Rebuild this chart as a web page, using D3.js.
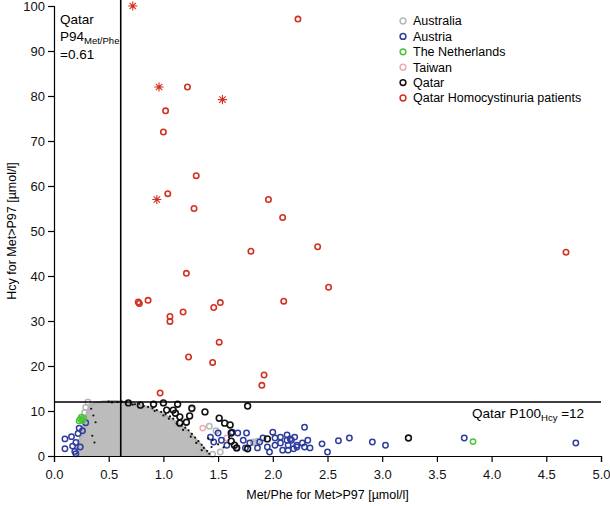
<!DOCTYPE html>
<html>
<head>
<meta charset="utf-8">
<script src="https://cdn.jsdelivr.net/npm/d3@7"></script>
<style>
  body { margin: 0; background: #fff; }
  text { font-family: "Liberation Sans", Arial, Helvetica, sans-serif; }
</style>
</head>
<body>
<svg id="chart" width="610" height="506"></svg>
<script>
// Met/Phe vs Hcy for Met>P97

// Qatar homocystinuria patients, open circles [Met/Phe, Hcy]
const patientCircles = [
  [2.23, 97.1], [1.22, 82], [1.02, 76.7], [1.0, 72], [1.30, 62.3], [1.04, 58.3],
  [1.96, 57], [1.28, 55], [2.09, 53], [1.80, 45.5], [2.41, 46.5], [4.68, 45.3],
  [1.21, 40.6], [2.51, 37.5], [1.18, 32], [1.46, 33], [1.52, 34.1], [2.10, 34.4],
  [0.77, 34.2], [0.78, 33.9], [0.86, 34.6], [1.06, 31.0], [1.06, 29.9],
  [1.51, 25.3], [1.23, 22], [1.45, 20.8], [1.92, 18], [1.90, 15.7], [0.97, 14]
]
// Qatar homocystinuria patients drawn as asterisks
const patientStars = [[0.72, 100], [0.96, 82], [1.54, 79.2], [0.94, 57]]

// Qatar newborns (black open circles)
const qatar = [
  [0.68, 11.8], [0.79, 11.3], [0.91, 11.5], [1.0, 11.8], [1.03, 10.2], [1.09, 10.2],
  [1.11, 9.5], [1.13, 11.5], [1.15, 8.7], [1.15, 7.3], [1.21, 7.5], [1.24, 8.9],
  [1.26, 10.6], [1.38, 9.8], [1.51, 8.4], [1.56, 7.3], [1.61, 6.9], [1.62, 5.1],
  [1.62, 3.3], [1.65, 2.4], [1.67, 1.8], [1.77, 1.6], [1.77, 11.1], [1.95, 3.8],
  [3.24, 4.0]
]
// Qatar small dots lying along the edge of the Australian cloud
const qatarDots = [
  [0.50, 12.1], [0.53, 11.9], [0.58, 12.0], [0.62, 12.1], [0.66, 11.9], [0.70, 11.8],
  [0.74, 11.5], [0.78, 11.6], [0.82, 11.1], [0.86, 10.9], [0.90, 10.6], [0.94, 10.2],
  [0.98, 9.8], [1.02, 9.3], [1.06, 8.8], [1.09, 8.3], [1.13, 7.7], [1.17, 7.0],
  [1.20, 6.3], [1.23, 5.7], [1.26, 4.9], [1.29, 4.1], [1.32, 3.3], [1.35, 2.5],
  [1.37, 1.8], [1.40, 1.1], [1.42, 0.5], [0.92, 10.0], [1.00, 9.0], [1.05, 8.3],
  [1.12, 7.2], [1.18, 5.8], [1.25, 4.3], [1.30, 2.9], [1.35, 1.3], [0.72, 11.4],
  [0.34, 10.5], [0.36, 9], [0.38, 7.5], [0.35, 4.5], [0.37, 3], [1.45, 3.5],
  [1.50, 2.6], [1.55, 1.9], [1.60, 4.2], [1.44, 2.0], [1.41, 3.9]
]

// Austria (blue open circles)
const austria = [
  [0.10, 3.8], [0.10, 1.6], [0.16, 4.3], [0.17, 2.2], [0.20, 3.0], [0.19, 1.0],
  [0.22, 5.0], [0.20, 0.5], [0.23, 6.2], [0.26, 5.6], [0.29, 7.4], [0.24, 2.0],
  [1.43, 4.2], [1.46, 3.1], [1.50, 5.1], [1.53, 3.5], [1.58, 2.4], [1.63, 5.3],
  [1.67, 1.8], [1.68, 5.1], [1.73, 3.5], [1.75, 1.8], [1.76, 5.1], [1.79, 2.9],
  [1.86, 1.8], [1.88, 3.1], [1.91, 4.0], [1.95, 2.0], [1.97, 0.9], [2.00, 5.3],
  [2.02, 4.0], [2.02, 2.4], [2.07, 2.9], [2.07, 4.2], [2.09, 1.3], [2.13, 4.7],
  [2.13, 3.5], [2.14, 2.4], [2.14, 1.3], [2.16, 3.8], [2.17, 3.5], [2.19, 1.6],
  [2.20, 4.2], [2.22, 2.0], [2.22, 2.4], [2.27, 2.9], [2.29, 6.4], [2.29, 2.0],
  [2.32, 3.5], [2.34, 1.8], [2.45, 2.7], [2.50, 0.9], [2.60, 3.4], [2.70, 4.0],
  [2.91, 3.1], [3.03, 2.4], [3.75, 4.0], [4.77, 2.9]
]

// The Netherlands (green open circles)
const netherlands = [[0.23, 7.8], [0.24, 8.2], [0.25, 8.6], [0.26, 7.9], [0.27, 8.4], [3.83, 3.2]]

// Taiwan (pink open circles)
const taiwan = [[1.36, 6.2], [1.58, 4.0]]

// Australia: outline of the dense cloud, plus the loose points outside it
const australiaCloud = [
  [0.21, 0], [0.21, 1], [0.22, 2.5], [0.24, 4], [0.26, 5.5], [0.27, 7], [0.29, 8.5],
  [0.31, 10], [0.33, 11], [0.37, 11.7], [0.45, 12], [0.55, 12.1], [0.65, 11.9],
  [0.75, 11.4], [0.85, 10.8], [0.93, 10.1], [0.99, 9.3], [1.05, 8.5], [1.10, 7.7],
  [1.15, 6.8], [1.20, 5.9], [1.25, 4.8], [1.29, 3.8], [1.33, 2.7], [1.37, 1.7],
  [1.40, 0.8], [1.41, 0]
]
const australia = [
  [0.31, 12], [0.29, 10.8], [0.28, 9.6], [1.26, 10.4], [1.33, 0.7], [1.52, 0.9],
  [1.84, 2.9], [1.86, 3.3], [1.82, 3.1], [1.48, 5.6], [1.42, 6.6], [1.45, 0.4]
]

const legendLabels = ["Australia", "Austria", "The Netherlands", "Taiwan", "Qatar", "Qatar Homocystinuria patients"]
const legendColors = ["#b8b8b8", "#2f3d9e", "#4cc43a", "#f2aab4", "#111111", "#d3301f"]

const xTicks = d3.range(0, 5.01, 0.5)
const yTicks = d3.range(0, 101, 10)
const p94 = 0.61
const p100 = 12

const svg = d3.select("#chart")
const margin = {left: 54, right: 9, top: 6, bottom: 50}
const width = 610, height = 506

const x = d3.scaleLinear().domain([0, 5]).range([margin.left, width - margin.right])
const y = d3.scaleLinear().domain([0, 100]).range([height - margin.bottom, margin.top])

// Australian cloud
svg.append("path")
  .datum(australiaCloud)
  .attr("d", d3.line().x(d => x(d[0])).y(d => y(d[1])).curve(d3.curveCatmullRom))
  .attr("fill", "#bcbcbc")
  .attr("stroke", "#b4b4b4")
  .attr("stroke-width", 3)

// generic open-circle layer
const drawCircles = (data, color, r = 2.7, sw = 1.5) => {
  svg.append("g")
    .selectAll("circle")
    .data(data)
    .enter()
    .append("circle")
    .attr("cx", d => x(d[0]))
    .attr("cy", d => y(d[1]))
    .attr("r", r)
    .attr("fill", "none")
    .attr("stroke", color)
    .attr("stroke-width", sw)
}

drawCircles(australia, legendColors[0])
drawCircles(taiwan, legendColors[3])
drawCircles(austria, legendColors[1])
drawCircles(netherlands, legendColors[2])

svg.append("g")
  .selectAll("circle")
  .data(qatarDots)
  .enter()
  .append("circle")
  .attr("cx", d => x(d[0]))
  .attr("cy", d => y(d[1]))
  .attr("r", 1.1)
  .attr("fill", "#111")

drawCircles(qatar, legendColors[4], 2.9, 1.6)
drawCircles(patientCircles, legendColors[5], 2.7, 1.6)

// asterisks: four crossing strokes and a centre dot
const starPath = s => `M${-s},0L${s},0M0,${-s}L0,${s}M${-s*0.7},${-s*0.7}L${s*0.7},${s*0.7}M${-s*0.7},${s*0.7}L${s*0.7},${-s*0.7}`
const stars = svg.append("g")
  .selectAll("g")
  .data(patientStars)
  .enter()
  .append("g")
  .attr("transform", d => `translate(${x(d[0])},${y(d[1])})`)
stars.append("path")
  .attr("d", starPath(4.6))
  .attr("stroke", legendColors[5])
  .attr("stroke-width", 1.1)
stars.append("circle").attr("r", 1.5).attr("fill", legendColors[5])

// threshold lines
svg.append("line")
  .attr("x1", x(p94)).attr("x2", x(p94))
  .attr("y1", y(0)).attr("y2", 0)
  .attr("stroke", "#000").attr("stroke-width", 1.6)
svg.append("line")
  .attr("x1", x(0)).attr("x2", x(5))
  .attr("y1", y(p100)).attr("y2", y(p100))
  .attr("stroke", "#000").attr("stroke-width", 1.6)

// axes
const xAxis = svg.append("g")
  .attr("transform", `translate(0,${y(0)})`)
  .call(d3.axisBottom(x).tickValues(xTicks).tickFormat(d3.format(".1f")).tickSizeOuter(0).tickSize(6))
const yAxis = svg.append("g")
  .attr("transform", `translate(${x(0)},0)`)
  .call(d3.axisLeft(y).tickValues(yTicks).tickSizeOuter(0).tickSize(6))
;[xAxis, yAxis].forEach(a => {
  a.select(".domain").attr("stroke-width", 1.2)
  a.selectAll(".tick line").attr("stroke-width", 1.2)
  a.selectAll(".tick text").attr("font-size", 13).attr("fill", "#111")
})
xAxis.selectAll(".tick text").attr("dy", "1.05em")

// axis titles
svg.append("text")
  .attr("x", (x(0) + x(5)) / 2).attr("y", 499)
  .attr("text-anchor", "middle").attr("font-size", 12.5)
  .text("Met/Phe for Met>P97 [µmol/l]")
svg.append("text")
  .attr("transform", `translate(16,${(y(0) + y(100)) / 2}) rotate(-90)`)
  .attr("text-anchor", "middle").attr("font-size", 12.5)
  .text("Hcy for Met>P97 [µmol/l]")

// annotations
const p94Label = svg.append("text").attr("font-size", 13.5).attr("x", 60)
p94Label.append("tspan").attr("x", 60).attr("y", 24).text("Qatar")
p94Label.append("tspan").attr("x", 60).attr("y", 41).text("P94")
p94Label.append("tspan").attr("font-size", 9.5).attr("dy", 3).text("Met/Phe")
p94Label.append("tspan").attr("x", 60).attr("y", 59).text("=0.61")

const p100Label = svg.append("text").attr("font-size", 13.5).attr("x", 472).attr("y", 418)
p100Label.append("tspan").text("Qatar P100")
p100Label.append("tspan").attr("font-size", 9.5).attr("dy", 3).text("Hcy")
p100Label.append("tspan").attr("dy", -3).text(" =12")

// legend
const legend = svg.append("g")
  .selectAll("g")
  .data(legendLabels)
  .enter()
  .append("g")
  .attr("transform", (d, i) => `translate(403,${21 + i * 15.4})`)
legend.append("circle")
  .attr("r", 2.9)
  .attr("fill", "none")
  .attr("stroke", (d, i) => legendColors[i])
  .attr("stroke-width", 1.5)
legend.append("text")
  .attr("x", 10).attr("dy", "0.35em")
  .attr("font-size", 12.5)
  .text(d => d)
</script>
</body>
</html>
